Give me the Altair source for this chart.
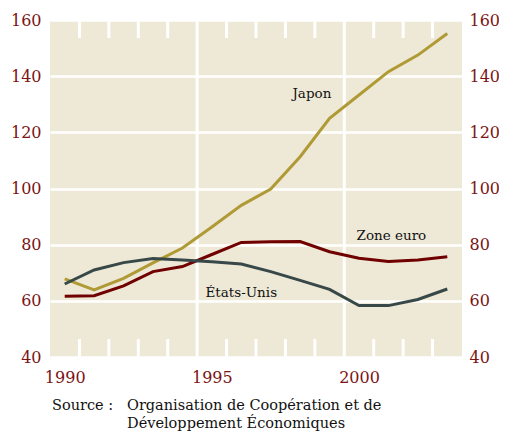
import altair as alt
import pandas as pd

years = [1990, 1991, 1992, 1993, 1994, 1995, 1996, 1997, 1998, 1999, 2000, 2001, 2002, 2003]
japon = [67.8, 63.9, 68.0, 73.5, 78.8, 86.3, 94.0, 99.8, 111.3, 125.0, 133.3, 141.6, 147.5, 155.2]
zone_euro = [61.6, 61.8, 65.3, 70.4, 72.2, 76.5, 80.8, 81.0, 81.1, 77.5, 75.2, 74.0, 74.5, 75.7]
etats_unis = [66.0, 71.0, 73.6, 75.1, 74.5, 73.9, 73.1, 70.4, 67.3, 64.1, 58.3, 58.3, 60.5, 64.2]

series_names = ["Japon", "Zone euro", "États-Unis"]
series_colors = ["#B09A35", "#700000", "#384848"]

label_text = ["Japon", "Zone euro", "États-Unis"]
label_x = [1998.4, 2001.1, 1996.0]
label_y = [133.6, 83.1, 62.8]

source_title = "Source :"
source_lines = ["Organisation de Coopération et de", "Développement Économiques"]

y_ticks = [40, 60, 80, 100, 120, 140, 160]
x_labels = [1990, 1995, 2000]

RED = "#7B1414"
FONT = "DejaVu Serif"

rows = []
for name, vals in zip(series_names, [japon, zone_euro, etats_unis]):
    for yr, v in zip(years, vals):
        rows.append({"annee": yr, "valeur": v, "serie": name})
df = pd.DataFrame(rows)

xscale = alt.Scale(domain=[1989.5, 2003.5], nice=False, zero=False)
yscale = alt.Scale(domain=[40, 160], nice=False, zero=False)

x_axis = alt.Axis(values=x_labels, format="d", domain=False, ticks=False, grid=False,
                  labelColor=RED, labelFont=FONT, labelFontSize=16, labelPadding=12,
                  title=None)


def X(field):
    return alt.X(field, scale=xscale, axis=x_axis, title=None)


halves = [y + 0.5 for y in years[:-1]]
full = [h for h in halves if h in (1994.5, 1999.5)]
short = [h for h in halves if h not in (1994.5, 1999.5)]

full_df = pd.DataFrame({"x": full, "y1": [40] * len(full), "y2": [160] * len(full)})
tick_rows = []
for h in short:
    tick_rows.append({"x": h, "y1": 160, "y2": 153.6})
    tick_rows.append({"x": h, "y1": 40, "y2": 46.4})
tick_df = pd.DataFrame(tick_rows)

lines = alt.Chart(df).mark_line(strokeWidth=3).encode(
    x=X("annee:Q"),
    y=alt.Y("valeur:Q", scale=yscale,
            axis=alt.Axis(values=y_ticks, orient="left", domain=False, ticks=False, grid=True,
                          gridColor="white", gridWidth=2.5, gridOpacity=1, labelColor=RED, labelFont=FONT,
                          labelFontSize=16, labelPadding=9, title=None)),
    color=alt.Color("serie:N", scale=alt.Scale(domain=series_names, range=series_colors), legend=None),
    detail="serie:N",
)

right_axis = alt.Chart(df).mark_line(opacity=0).encode(
    x=X("annee:Q"),
    y=alt.Y("valeur:Q", scale=yscale,
            axis=alt.Axis(values=y_ticks, orient="right", domain=False, ticks=False, grid=False,
                          labelColor=RED, labelFont=FONT, labelFontSize=16, labelPadding=7,
                          title=None)),
    detail="serie:N",
)

full_rules = alt.Chart(full_df).mark_rule(color="white", strokeWidth=3).encode(
    x=X("x:Q"),
    y=alt.Y("y1:Q", scale=yscale, axis=None),
    y2="y2:Q",
)
tick_rules = alt.Chart(tick_df).mark_rule(color="white", strokeWidth=3).encode(
    x=X("x:Q"),
    y=alt.Y("y1:Q", scale=yscale, axis=None),
    y2="y2:Q",
)

labels_df = pd.DataFrame({"t": label_text, "x": label_x, "y": label_y})
labels = alt.Chart(labels_df).mark_text(font=FONT, fontSize=13.5, color="#111111", baseline="middle").encode(
    x=X("x:Q"),
    y=alt.Y("y:Q", scale=yscale, axis=None),
    text="t:N",
)


def src(text, x, y):
    d = pd.DataFrame({"t": [text]})
    return alt.Chart(d).mark_text(font=FONT, fontSize=14.5, color="#111111", align="left",
                                  baseline="middle").encode(x=alt.value(x), y=alt.value(y), text="t:N")


src_layers = [src(source_title, 2, 386), src(source_lines[0], 77, 386), src(source_lines[1], 77, 404)]

chart = alt.layer(full_rules, tick_rules, lines, right_axis, labels, *src_layers).resolve_axis(
    y="independent"
).resolve_scale(y="shared").properties(
    width=412, height=337,
    autosize=alt.AutoSizeParams(type="none"),
    padding={"left": 42, "top": 12, "right": 37, "bottom": 74},
    background="white",
).configure_view(fill="#EEE9D6", stroke=None)

chart.save("out.html", embed_options={"renderer": "svg", "actions": False})
